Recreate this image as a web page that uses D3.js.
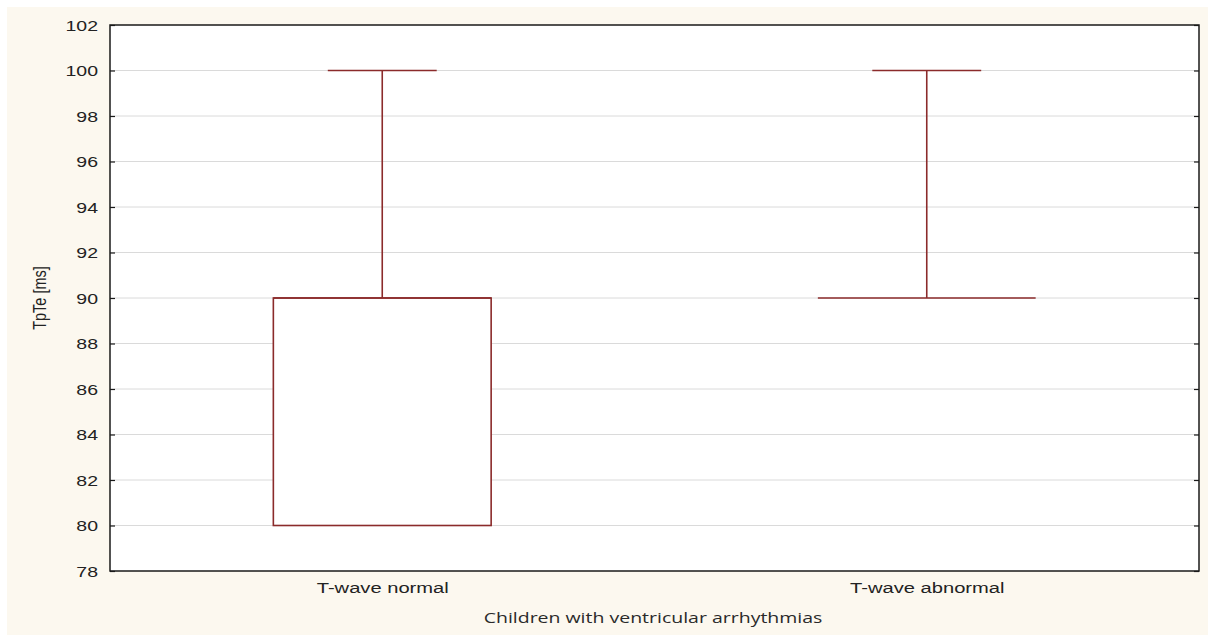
<!DOCTYPE html>
<html>
<head>
<meta charset="utf-8">
<script src="https://cdn.jsdelivr.net/npm/d3@7/dist/d3.min.js"></script>
<style>
  html, body { margin: 0; padding: 0; background: #ffffff; }
  svg { display: block; }
</style>
</head>
<body>
<svg id="chart" width="1208" height="635"></svg>
<script>
// TpTe by T-wave group: median, box 25%-75%, whiskers = non-outlier range
const groups   = ["T-wave normal", "T-wave abnormal"];
const mins     = [80, 90];
const q1s      = [80, 90];
const medians  = [90, 90];
const q3s      = [90, 90];
const maxs     = [100, 100];
const yTicks   = [78, 80, 82, 84, 86, 88, 90, 92, 94, 96, 98, 100, 102];

const yLabel = "TpTe [ms]";
const xLabel = "Children with ventricular arrhythmias";

const W = 1208, H = 635;
const margin = { left: 110, right: 9, top: 25, bottom: 64 };
const boxColor = "#8b2b2b";
const textColor = "#222222";
const sx = 1.3;               // horizontal stretch of all lettering
const sansFont = "'Liberation Sans', Arial, sans-serif";

const svg = d3.select("#chart");

// cream page backdrop
svg.append("rect")
  .attr("x", 7).attr("y", 7)
  .attr("width", W - 7).attr("height", H - 7)
  .attr("fill", "#fcf8ef");

const x0 = margin.left, x1 = W - margin.right;
const y0 = margin.top, y1 = H - margin.bottom;

const x = d3.scalePoint().domain(groups).range([x0, x1]).padding(0.5);
const y = d3.scaleLinear().domain([78, 102]).range([y1, y0]);

// plot area
svg.append("rect")
  .attr("x", x0).attr("y", y0)
  .attr("width", x1 - x0).attr("height", y1 - y0)
  .attr("fill", "#ffffff");

// horizontal grid
svg.append("g")
  .selectAll("line")
  .data(yTicks.filter(t => t > 78 && t < 102))
  .join("line")
  .attr("x1", x0).attr("x2", x1)
  .attr("y1", d => y(d)).attr("y2", d => y(d))
  .attr("stroke", "#dadada").attr("stroke-width", 1);

const step = x.step();
const boxW = step * 0.4;
const capW = boxW / 2;

const data = groups.map((g, i) => ({
  g, min: mins[i], q1: q1s[i], med: medians[i], q3: q3s[i], max: maxs[i]
}));

const marks = svg.append("g")
  .attr("stroke", boxColor).attr("stroke-width", 1.6).attr("fill", "none");

data.forEach(d => {
  const cx = x(d.g);
  // whiskers
  if (d.max > d.q3) {
    marks.append("line").attr("x1", cx).attr("x2", cx)
      .attr("y1", y(d.q3)).attr("y2", y(d.max));
    marks.append("line").attr("x1", cx - capW / 2).attr("x2", cx + capW / 2)
      .attr("y1", y(d.max)).attr("y2", y(d.max));
  }
  if (d.min < d.q1) {
    marks.append("line").attr("x1", cx).attr("x2", cx)
      .attr("y1", y(d.q1)).attr("y2", y(d.min));
    marks.append("line").attr("x1", cx - capW / 2).attr("x2", cx + capW / 2)
      .attr("y1", y(d.min)).attr("y2", y(d.min));
  }
  // box
  if (d.q3 > d.q1) {
    marks.append("rect")
      .attr("x", cx - boxW / 2).attr("y", y(d.q3))
      .attr("width", boxW).attr("height", y(d.q1) - y(d.q3))
      .attr("fill", "#ffffff");
  }
  // median
  marks.append("line").attr("x1", cx - boxW / 2).attr("x2", cx + boxW / 2)
    .attr("y1", y(d.med)).attr("y2", y(d.med));
});

// frame
svg.append("rect")
  .attr("x", x0).attr("y", y0)
  .attr("width", x1 - x0).attr("height", y1 - y0)
  .attr("fill", "none").attr("stroke", "#1a1a1a").attr("stroke-width", 1.5);

// left axis: inward ticks, stretched labels
const yAxisL = svg.append("g")
  .attr("transform", `translate(${x0},0)`)
  .call(d3.axisLeft(y).tickValues(yTicks).tickSize(-5).tickFormat(d3.format("d")));
yAxisL.select(".domain").remove();
yAxisL.selectAll(".tick line").attr("stroke", "#1a1a1a").attr("stroke-width", 1.2);
yAxisL.selectAll(".tick text")
  .attr("x", null).attr("dy", "0.36em")
  .attr("transform", `translate(-12,0) scale(${sx},1)`)
  .attr("text-anchor", "end")
  .attr("font-family", sansFont)
  .attr("font-size", 15).attr("fill", textColor);

// right axis: inward ticks, no labels
const yAxisR = svg.append("g")
  .attr("transform", `translate(${x1},0)`)
  .call(d3.axisRight(y).tickValues(yTicks).tickSize(-5).tickFormat(""));
yAxisR.select(".domain").remove();
yAxisR.selectAll(".tick line").attr("stroke", "#1a1a1a").attr("stroke-width", 1.2);

// bottom axis labels
const xAxis = svg.append("g")
  .attr("transform", `translate(0,${y1})`)
  .call(d3.axisBottom(x).tickSize(0));
xAxis.select(".domain").remove();
xAxis.selectAll(".tick text")
  .attr("y", null).attr("dy", null)
  .attr("transform", `translate(0,22) scale(${sx},1)`)
  .attr("text-anchor", "middle")
  .attr("font-family", sansFont)
  .attr("font-size", 15.5).attr("fill", textColor);

// axis titles
svg.append("text")
  .attr("transform", `translate(653,623) scale(${sx},1)`)
  .attr("text-anchor", "middle")
  .attr("font-family", "'Open Sans', 'DejaVu Sans', sans-serif")
  .attr("font-size", 15).attr("fill", "#2a2a2a")
  .text(xLabel);

svg.append("text")
  .attr("transform", `translate(46,${(y0 + y1) / 2}) scale(${sx},1) rotate(-90)`)
  .attr("text-anchor", "middle")
  .attr("font-family", sansFont)
  .attr("font-size", 14.5).attr("fill", textColor)
  .text(yLabel);
</script>
</body>
</html>
